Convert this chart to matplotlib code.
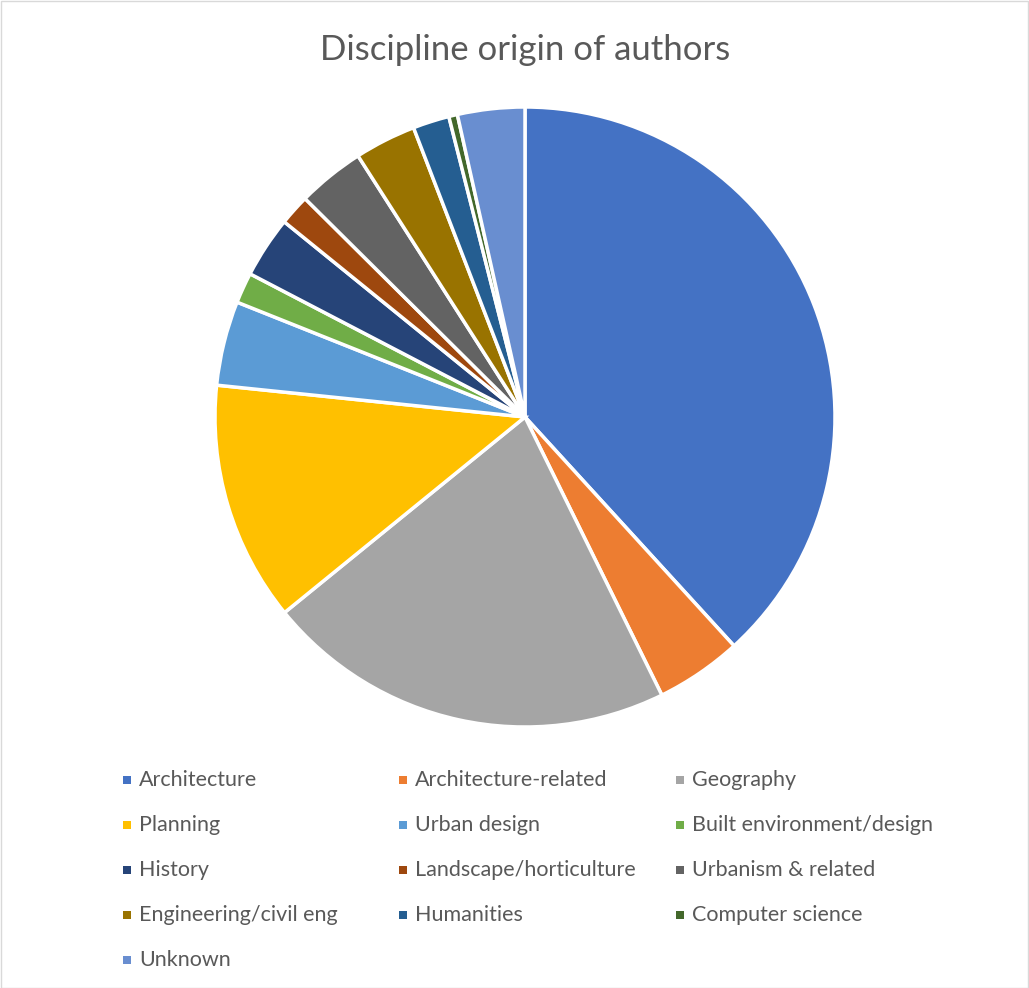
import matplotlib.pyplot as plt
import matplotlib.patches as mpatches

# slice shares (%), read clockwise from 12 o'clock
labels = [
    "Architecture", "Architecture-related", "Geography",
    "Planning", "Urban design", "Built environment/design",
    "History", "Landscape/horticulture", "Urbanism & related",
    "Engineering/civil eng", "Humanities", "Computer science",
    "Unknown",
]
shares = [38.2, 4.5, 21.4, 12.5, 4.4, 1.6, 3.2, 1.6, 3.5, 3.2, 1.9, 0.45, 3.5]
colors = [
    "#4472C4", "#ED7D31", "#A5A5A5", "#FFC000", "#5B9BD5", "#70AD47",
    "#264478", "#9E480E", "#636363", "#997300", "#255E91", "#43682B",
    "#698ED0",
]

TEXT_COLOR = "#595959"
FONT = ["Lato", "DejaVu Sans"]

W, H = 1029, 988
fig = plt.figure(figsize=(W / 100, H / 100), dpi=100)

# pie centre (525, 417) px from top-left, radius ~310 px
cx, cy, r = 525, 417, 310
ax = fig.add_axes([(cx - r) / W, (H - cy - r) / H, 2 * r / W, 2 * r / H])
ax.pie(
    shares,
    colors=colors,
    startangle=90,
    counterclock=False,
    radius=1.0,
    wedgeprops=dict(edgecolor="white", linewidth=2.5),
)
ax.set_xlim(-1, 1)
ax.set_ylim(-1, 1)
ax.set_aspect("equal")
ax.axis("off")

fig.text(cx / W, 1 - 50 / H, "Discipline origin of authors",
         ha="center", va="center", fontsize=25, color=TEXT_COLOR, family=FONT)

# legend laid out like the Excel one: 3 columns, rows 45 px apart
col_x = [127, 403, 680]
row_y0, row_dy = 780, 45
sq = 8
for i, (lab, col) in enumerate(zip(labels, colors)):
    c, rw = i % 3, i // 3
    x = col_x[c]
    y = row_y0 + rw * row_dy
    fig.add_artist(mpatches.Rectangle(
        ((x - sq / 2) / W, 1 - (y + sq / 2) / H), sq / W, sq / H,
        transform=fig.transFigure, facecolor=col, edgecolor="none"))
    fig.text((x + 12) / W, 1 - y / H, lab, ha="left", va="center",
             fontsize=15.5, color=TEXT_COLOR, family=FONT)

# thin chart-area border
fig.add_artist(mpatches.Rectangle(
    (0.5 / W, 0.5 / H), 1 - 1.5 / W, 1 - 1.5 / H, transform=fig.transFigure,
    facecolor="none", edgecolor="#D9D9D9", linewidth=1))

fig.savefig("out.png", dpi=100)
